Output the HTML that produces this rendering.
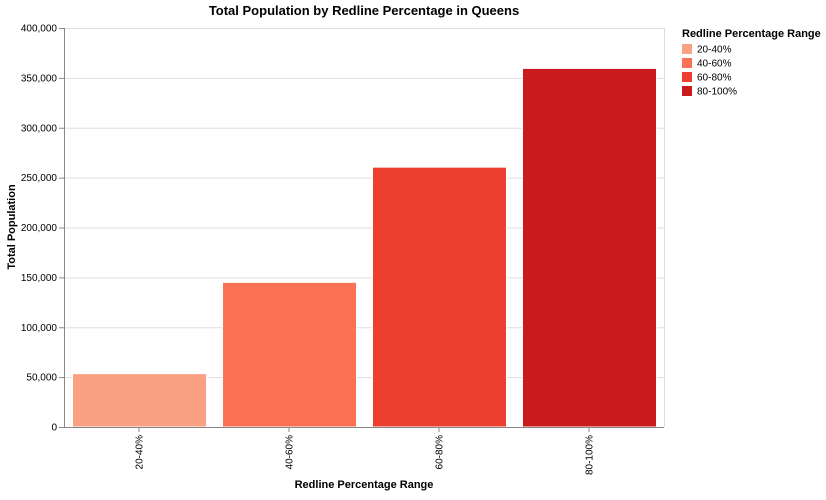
<!DOCTYPE html>
<html><head><meta charset="utf-8"><style>
body{margin:0;background:#fff;font-family:"Liberation Sans",Arial,sans-serif;}
svg text{font-family:"Liberation Sans",Arial,sans-serif;}
</style></head><body>
<svg id="chart" width="826" height="495" xmlns="http://www.w3.org/2000/svg">
<text x="364" y="15" text-anchor="middle" font-size="13" font-weight="bold" fill="#000">Total Population by Redline Percentage in Queens</text>
<g id="grid"></g><g id="bars"></g><g id="axes"></g><g id="legend"></g>
<text x="364" y="488" text-anchor="middle" font-size="11" font-weight="bold">Redline Percentage Range</text>
<text transform="translate(15,227) rotate(-90)" text-anchor="middle" font-size="11" font-weight="bold">Total Population</text>
</svg>
<script>
const categories=["20-40%","40-60%","60-80%","80-100%"];
const values=[53500,145000,260500,359500];
const colors=["#fca083","#fb7153","#ec3f2f","#c91b1e"];
const yTicks=[0,50000,100000,150000,200000,250000,300000,350000,400000];
const NS="http://www.w3.org/2000/svg";
const L=64,R=664,T=28,B=427,yMax=400000;
const step=(R-L)/categories.length;
const y=v=>B-(v/yMax)*(B-T);
const x=i=>L+i*step;
function mk(tag,attrs,parent){const e=document.createElementNS(NS,tag);for(const k in attrs)e.setAttribute(k,attrs[k]);parent.appendChild(e);return e;}
const grid=document.getElementById('grid'),bars=document.getElementById('bars'),axes=document.getElementById('axes'),legend=document.getElementById('legend');
yTicks.forEach(t=>{
  const g=mk('line',{x1:L,x2:R,y1:y(t)+0.5,y2:y(t)+0.5,stroke:'#ddd'},grid);
  
  
  mk('line',{x1:L-5,x2:L,y1:y(t)+0.5,y2:y(t)+0.5,stroke:'#888'},axes);
  const tx=mk('text',{x:L-7,y:y(t)+3.5,'text-anchor':'end','font-size':10,fill:'#000'},axes);
  tx.textContent=t.toLocaleString('en-US');
  
  
});
mk('line',{x1:R+0.5,x2:R+0.5,y1:T,y2:B,stroke:'#ddd'},grid);
categories.forEach((c,i)=>{
  const bw=step*0.9,bx=x(i)+step*0.05;
  const r=mk('rect',{x:bx+1,y:y(values[i]),width:bw-1,height:B-y(values[i]),fill:colors[i],stroke:'#fff','stroke-width':1},bars);
  
  
  const cx=x(i)+step/2;
  mk('line',{x1:cx,x2:cx,y1:B,y2:B+5,stroke:'#888'},axes);
  const tx=mk('text',{transform:`translate(${cx+3.5},${B+8}) rotate(-90)`,'text-anchor':'end','font-size':10},axes);
  tx.textContent=c;
  
  
  const lr=mk('rect',{x:682,y:44+i*14,width:10,height:10,fill:colors[i]},legend);
  
  
  const lt=mk('text',{x:697,y:52.5+i*14,'font-size':10},legend);
  lt.textContent=c;
  
  
});
mk('line',{x1:L+0.5,x2:L+0.5,y1:T,y2:B,stroke:'#888'},axes);
mk('line',{x1:L,x2:R,y1:B+0.5,y2:B+0.5,stroke:'#888'},axes);
const lt=mk('text',{x:682,y:37,'font-size':11,'font-weight':'bold'},legend);
lt.textContent='Redline Percentage Range';


</script>
</body></html>
